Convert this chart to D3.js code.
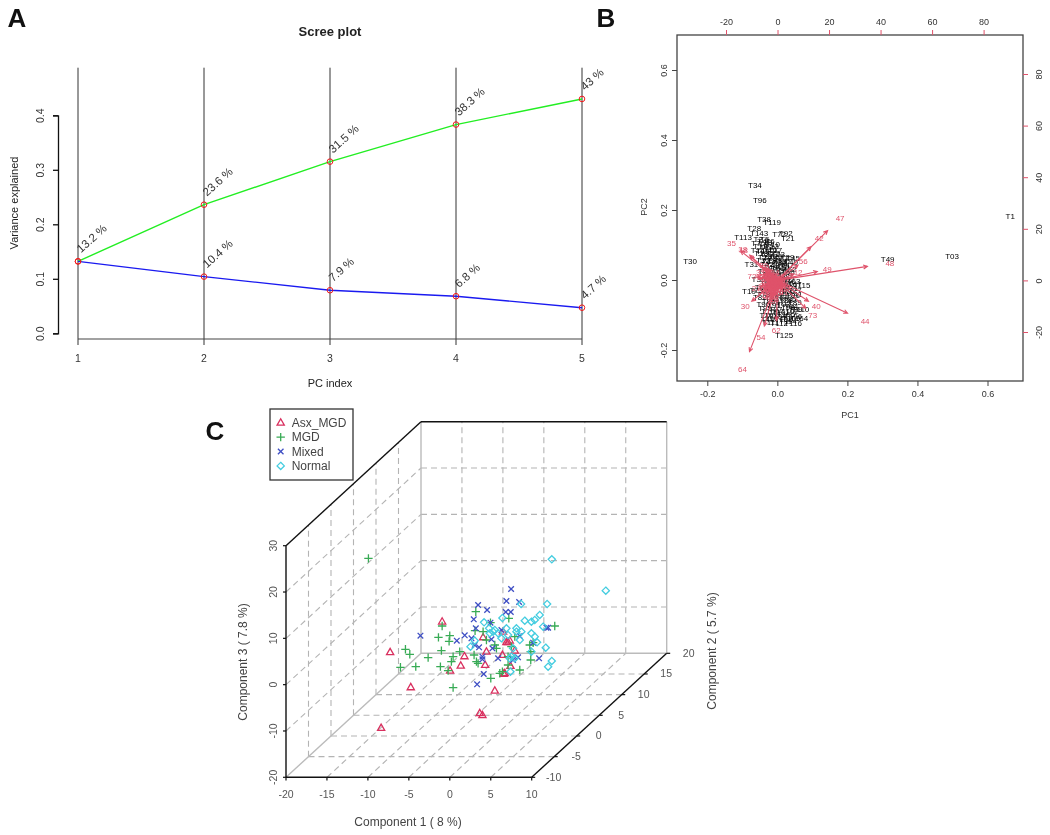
<!DOCTYPE html>
<html>
<head>
<meta charset="utf-8">
<script src="https://cdn.jsdelivr.net/npm/d3@7"></script>
<style>
  body { margin: 0; background: #fff; }
  svg { display: block; font-family: "Liberation Sans", Arial, sans-serif; filter: blur(0.3px); }
</style>
</head>
<body>
<div id="chart"></div>
<script>
// A: scree plot
const pcIndex = [1, 2, 3, 4, 5];
const individualVar = [0.132, 0.104, 0.079, 0.068, 0.047];
const cumulativeVar = [0.132, 0.236, 0.315, 0.383, 0.43];
const individualLabels = ["", "10.4 %", "7.9 %", "6.8 %", "4.7 %"];
const cumulativeLabels = ["13.2 %", "23.6 %", "31.5 %", "38.3 %", "43 %"];
const screeTicks = [0, 0.1, 0.2, 0.3, 0.4];

// B: biplot, first the far-out samples then the crowd round the origin
const scoreNames = ["T1","T03","T49","T30","T34","T96","T38","T119","T28","T143","T113","T92","T72","T21","T45","T31","T19","T115","T41","T110","T164","T44","T125","T39",
  "T2","T4","T5","T6","T7","T8","T9","T10","T11","T12","T13","T14","T15","T16","T17","T18","T20","T22","T23","T24","T25","T26","T27","T29","T32","T33","T35","T36","T37","T40",
  "T42","T43","T46","T47","T48","T50","T51","T52","T53","T54","T55","T56","T57","T58","T59","T60","T61","T62","T63","T64","T65","T66","T67","T68","T69","T70","T71","T73","T74",
  "T75","T76","T77","T78","T79","T80","T81","T82","T83","T84","T85","T86","T87","T88","T89","T90","T91","T93","T94","T95","T97","T98","T99","T100","T101","T102","T103","T104","T105",
  "T106","T107","T108","T109","T111","T112","T114","T116"];
const scorePC1 = [0.665,0.499,0.315,-0.249,-0.064,-0.05,-0.038,-0.015,-0.066,-0.052,-0.098,0.024,0.005,0.03,0.045,-0.074,-0.081,0.069,0.052,0.066,0.062,-0.028,0.019,-0.054,
  -0.055,-0.044,-0.036,-0.021,
  -0.061,-0.04,-0.027,-0.012,
  -0.05,-0.031,-0.016,
  -0.056,-0.041,-0.02,-0.006,
  -0.046,-0.03,-0.013,0.002,
  -0.036,-0.021,-0.005,0.011,0.029,
  -0.041,-0.026,-0.01,0.006,0.02,0.039,
  -0.03,-0.013,0.01,0.028,
  -0.02,0.001,0.018,0.035,
  -0.036,-0.01,0.012,0.03,
  -0.025,0.005,0.022,
  -0.02,0.01,0.03,0.046,
  -0.03,0,0.025,0.05,
  -0.045,-0.015,0.015,0.04,
  -0.06,-0.02,0.008,0.03,0.05,
  -0.04,-0.005,0.02,0.045,
  -0.05,-0.015,0.012,0.035,
  -0.025,0,0.025,0.05,
  -0.04,-0.01,0.018,0.04,
  -0.035,-0.005,0.03,0.052,
  -0.02,0.01,0.035,
  -0.025,0,0.025,0.045,
  -0.01,0.018,0.04,
  -0.02,0.005,0.03,0.045,
  0.015,0.03,
  0.022,0.035];
const scorePC2 = [0.181,0.069,0.06,0.053,0.271,0.228,0.173,0.164,0.149,0.133,0.123,0.134,0.13,0.119,0.063,0.046,-0.031,-0.015,-0.041,-0.082,-0.108,-0.111,-0.157,0.003,
  0.116,0.112,0.118,0.11,
  0.106,0.103,0.107,0.101,
  0.096,0.093,0.097,
  0.086,0.083,0.088,0.084,
  0.076,0.073,0.078,0.074,
  0.066,0.063,0.068,0.061,0.066,
  0.056,0.053,0.058,0.051,0.055,0.05,
  0.046,0.043,0.047,0.041,
  0.036,0.033,0.037,0.031,
  0.026,0.023,0.027,0.021,
  0.016,0.012,0.014,
  0.001,-0.002,0.003,-0.004,
  -0.01,-0.012,-0.008,-0.013,
  -0.02,-0.022,-0.018,-0.024,
  -0.03,-0.032,-0.028,-0.033,-0.03,
  -0.04,-0.042,-0.038,-0.044,
  -0.05,-0.052,-0.048,-0.054,
  -0.06,-0.062,-0.058,-0.064,
  -0.07,-0.072,-0.068,-0.074,
  -0.08,-0.082,-0.078,-0.084,
  -0.09,-0.092,-0.088,
  -0.1,-0.102,-0.098,-0.104,
  -0.11,-0.112,-0.108,
  -0.12,-0.122,-0.118,-0.124,
  -0.13,-0.132,
  -0.145,-0.142];

const loadingNames = ["47","48","44","64","35","30","40","73","54","62","42","56","12","49","72","27","18","38",
  "1","2","3","4","5","6","7","8","9","10","11","13","14","15","16","17","19","20","21","22","23","24","25","26","28","29",
  "31","32","33","34","36","37","39","41","43","45","46","50","51","52","53","55","57","58","59","60","61","63","65","66","67","68","69","70","71","74","75"];
const loadingTop = [24.3,43.6,34,-13.6,-17.9,-12.5,15,13.7,-6.4,-0.5,16.2,10,8,19.3,-9.9,-8.3,-13.2,-13.5,
  -3.4,-5,-5.8,-2.2,-4.1,-1.6,0.4,1.2,2.2,-3,-1.9,-4.6,-6.4,-5.9,-5.2,-3.6,-0.3,0.6,1.6,-1.2,-2.3,-3.7,-2.8,-0.4,-1.2,-2.4,
  -4.4,-5.4,-6.6,-1,2.6,3.2,1,2.4,3.4,-7,-3.6,-5.9,-1.6,-0.8,0.3,-4.6,-3,-2.1,-0.2,-5.6,-3.1,-3.8,-4.9,-1.2,1,-2.6,-3.5,-1,-4.4,-1.8,-2.7];
const loadingRight = [24.1,6.8,-15.9,-34.5,14.3,-10.1,-10.1,-13.6,-22.1,-19.4,16.3,7.4,3.1,4.3,1.6,-3.1,11.6,12.2,
  0.8,3.1,4.4,-2.6,-3.6,2.3,0.9,-2.4,-0.2,-5.2,-6.3,-5.7,1.2,-2.3,-0.4,3.6,-3.7,-4.4,-3.6,0.2,-3.4,-1.8,-0.2,-5,-7.2,-7.9,
  5.2,6,3.2,3,-1.6,0.4,1.6,-4.6,-2.7,1.8,-6.6,-4.3,-4.4,-2.8,-2,0.6,1.5,-1.3,-0.5,1.6,-3.8,-4.7,-2.9,-5.6,-0.4,0.5,-2.4,-1.7,-0.7,1,-1.3];

// C: 3d scatter. Depth can't be read off a flat picture, so the points sit on the comp2 = 0 plane
const groupNames = ["Asx_MGD", "MGD", "Mixed", "Normal"];
const asxComp1 = [-6.43,-12.78,-10.26,-13.88,-1.84,-1.51,0,1.09,1.91,-1.18,-4.16,-5.46,-3.71,-1.02,-1.43,1.01,1.62,1.42,1.83,2.44,0.93,1.22];
const asxComp3 = [4.68,-1.94,-9.5,-18.27,-15.11,-15.54,-10.22,-6.62,-4.89,-4.68,-4.82,-5.9,-2.81,-1.8,1.29,2.52,0.22,0.22,0.58,-1.58,-2.52,-6.47];
const mgdComp1 = [-15.43,-2.32,-0.53,1.71,-6.43,-6.88,-5.5,-5.58,-2.41,-1.43,-10.91,-10.38,-11.52,-9.65,-8.14,-6.52,-4.28,-5.09,-5.3,-6.64,-5.7,-5.09,-2.53,-2.24,-2.04,-0.49,0.61,0.93,3.05,4.39,4.39,4.27,4.68,7.32,-1.02,0,0.2,2.03,2.44,1.62,1.62];
const mgdComp3 = [18.35,6.83,4.46,5.4,3.74,1.29,1.65,0.43,2.73,2.52,-1.29,-2.37,-5.18,-5.04,-3.09,-1.58,-1.8,-2.88,-3.96,-5.04,-5.9,-9.57,-2.52,-3.96,-4.32,-7.55,-6.47,-6.12,-5.76,-3.6,-1.8,-0.36,0.14,3.74,0.72,-0.36,-1.08,-0.72,1.44,-2.88,-4.68];
const mixedComp1 = [1.99,1.42,2.97,-2.04,-0.94,1.34,1.95,-2.57,-0.53,-2.32,-9.08,-4.64,-3.67,-2.85,-2.45,-1.92,-1.51,-1.51,-1.35,-2.16,-0.41,-0.29,0.4,0.81,3.05,2.84,5.41,6.3,6.51,4.68,2.23];
const mixedComp3 = [11.73,9.14,8.92,8.27,7.19,6.76,6.76,5.18,4.46,3.24,1.65,0.58,1.73,1.08,-0.36,-0.86,-2.88,-3.45,-6.62,-8.85,0.86,-1.08,-3.24,2.88,1.58,-3.02,-3.24,3.38,3.38,0.14,-3.6];
const normalComp1 = [6.96,13.55,6.39,3.21,5.49,4.88,4.47,3.66,0.93,-1.31,-0.7,-0.21,1.42,2.64,3.25,5.9,4.47,4.88,5.16,6.22,4.47,6.96,6.51,1.91,-2.97,-2.45,0.81,1.62,2.64,3.05,2.03,2.44,1.82,2.23,0.4,-0.61,0];
const normalComp3 = [18.13,11.37,8.49,8.49,6.12,5.04,4.68,4.89,5.47,4.53,3.24,2.52,3.24,3.24,2.52,3.6,2.16,1.44,0.22,-0.94,-1.8,-3.81,-5.04,-6.12,-0.72,0.58,1.08,1.8,2.52,0.72,-2.88,-3.24,-3.24,-1.08,2.16,2.16,2.88];
const comp1Ticks = [-20, -15, -10, -5, 0, 5, 10];
const comp2Ticks = [-10, -5, 0, 5, 10, 15, 20];
const comp3Ticks = [-20, -10, 0, 10, 20, 30];

const svg = d3.select("#chart").append("svg").attr("width", 1050).attr("height", 835);

function label(x, y, txt, size, opts) {
  opts = opts || {};
  return svg.append("text")
    .attr("transform", "translate(" + x + "," + y + ")" + (opts.rotate ? " rotate(" + opts.rotate + ")" : ""))
    .attr("text-anchor", opts.anchor || "middle")
    .attr("font-size", size)
    .attr("font-weight", opts.weight || "normal")
    .attr("fill", opts.fill || "#222")
    .text(txt);
}

label(17, 27, "A", 26, {weight: "bold", fill: "#111"});
label(606, 27, "B", 26, {weight: "bold", fill: "#111"});
label(215, 440, "C", 26, {weight: "bold", fill: "#111"});

drawScree();
drawBiplot();
draw3d();

function drawScree() {
  const x = d3.scaleLinear().domain([1, 5]).range([78, 582]);
  const y = d3.scaleLinear().domain([0, 0.4]).range([333.3, 115.3]);

  label(330, 36, "Scree plot", 13, {weight: "bold"});
  label(330, 386.5, "PC index", 11);
  label(18, 203, "Variance explained", 11, {rotate: -90});

  const yAxis = d3.axisLeft(y).tickValues(screeTicks).tickFormat(d3.format(".1f")).tickSize(5).tickSizeOuter(5);
  const gy = svg.append("g").attr("transform", "translate(58,0)").call(yAxis);
  gy.selectAll("path, line").attr("stroke", "#111").attr("stroke-width", 1.3);
  gy.selectAll("text")
    .attr("transform", "rotate(-90)")
    .attr("x", 0).attr("y", -14).attr("dy", 0)
    .attr("text-anchor", "middle")
    .attr("font-size", 10.5).attr("font-family", "Liberation Sans").attr("fill", "#333");

  const g = svg.append("g");
  g.selectAll("line.pc").data(pcIndex).enter().append("line")
    .attr("x1", (d) => x(d)).attr("x2", (d) => x(d))
    .attr("y1", 67.7).attr("y2", 345)
    .attr("stroke", "#333").attr("stroke-width", 1);
  g.append("line")
    .attr("x1", x(1)).attr("x2", x(5)).attr("y1", 339).attr("y2", 339)
    .attr("stroke", "#444").attr("stroke-width", 1.2);

  pcIndex.forEach((d) => label(x(d), 362, d, 10.5, {fill: "#333"}));

  const line = d3.line().x((d, i) => x(pcIndex[i])).y((d) => y(d));
  g.append("path").attr("d", line(cumulativeVar)).attr("fill", "none").attr("stroke", "#22ee22").attr("stroke-width", 1.4);
  g.append("path").attr("d", line(individualVar)).attr("fill", "none").attr("stroke", "#1a1af0").attr("stroke-width", 1.4);

  [[cumulativeVar, cumulativeLabels], [individualVar, individualLabels]].forEach((s) => {
    g.selectAll(null).data(s[0]).enter().append("circle")
      .attr("cx", (d, i) => x(pcIndex[i])).attr("cy", (d) => y(d)).attr("r", 2.8)
      .attr("fill", "none").attr("stroke", "#f01818").attr("stroke-width", 1);
    s[0].forEach((d, i) => {
      if (s[1][i]) label(x(pcIndex[i]) + 3, y(d) - 8, s[1][i], 11.5, {anchor: "start", rotate: -42, fill: "#333"});
    });
  });
}

function drawBiplot() {
  const pink = "#df536b";
  const left = 677, right = 1023, top = 35, bottom = 381;
  const x = d3.scaleLinear().domain([-0.2, 0.6]).range([707.3, 987.5]);
  const y = d3.scaleLinear().domain([-0.2, 0.6]).range([350, 70]);
  const xTop = d3.scaleLinear().domain([-20, 80]).range([726, 983.6]);
  const yRight = d3.scaleLinear().domain([-20, 80]).range([332, 74]);

  svg.append("rect")
    .attr("x", left).attr("y", top).attr("width", right - left).attr("height", bottom - top)
    .attr("fill", "none").attr("stroke", "#444").attr("stroke-width", 1.3);

  // plain hyphens on the ticks, as R prints them
  const fmt = (d) => d.toFixed(1);
  const fmtInt = (d) => String(d);
  const styleAxis = (g, col) => {
    g.select(".domain").remove();
    g.selectAll("line").attr("stroke", col);
    g.selectAll("text").attr("font-size", 9).attr("font-family", "Liberation Sans").attr("fill", "#333");
  };
  const rotateText = (g, off) => g.selectAll("text")
    .attr("transform", "rotate(-90)").attr("x", 0).attr("y", off).attr("dy", 0).attr("text-anchor", "middle");

  svg.append("g").attr("transform", "translate(0," + bottom + ")")
    .call(d3.axisBottom(x).tickValues([-0.2, 0, 0.2, 0.4, 0.6]).tickFormat(fmt).tickSize(5).tickPadding(5))
    .call(styleAxis, "#444");
  svg.append("g").attr("transform", "translate(" + left + ",0)")
    .call(d3.axisLeft(y).tickValues([-0.2, 0, 0.2, 0.4, 0.6]).tickFormat(fmt).tickSize(5))
    .call(styleAxis, "#444").call(rotateText, -10);
  svg.append("g").attr("transform", "translate(0," + top + ")")
    .call(d3.axisTop(xTop).tickValues([-20, 0, 20, 40, 60, 80]).tickFormat(fmtInt).tickSize(5).tickPadding(5))
    .call(styleAxis, pink);
  svg.append("g").attr("transform", "translate(" + right + ",0)")
    .call(d3.axisRight(yRight).tickValues([-20, 0, 20, 40, 60, 80]).tickFormat(fmtInt).tickSize(5))
    .call(styleAxis, pink).call(rotateText, 19);

  label(850, 418, "PC1", 9, {fill: "#333"});
  label(647, 207, "PC2", 9, {rotate: -90, fill: "#333"});

  svg.append("g").selectAll("text").data(scorePC1).enter().append("text")
    .attr("x", (d) => x(d))
    .attr("y", (d, i) => y(scorePC2[i]))
    .attr("dy", "0.35em")
    .attr("text-anchor", "middle")
    .attr("font-size", 8)
    .attr("fill", "#000")
    .text((d, i) => scoreNames[i]);

  // arrows stop at 80% of the loading, the label sits on the loading itself
  const arrows = svg.append("g").attr("stroke", pink).attr("fill", "none").attr("stroke-width", 1.1);
  loadingTop.forEach((d, i) => {
    const x0 = xTop(0), y0 = yRight(0);
    const tx = xTop(d * 0.8), ty = yRight(loadingRight[i] * 0.8);
    const a = Math.atan2(ty - y0, tx - x0);
    const hx = (s) => tx - 4.5 * Math.cos(a + s), hy = (s) => ty - 4.5 * Math.sin(a + s);
    arrows.append("path").attr("d",
      "M" + x0 + "," + y0 + "L" + tx + "," + ty +
      "M" + hx(0.45) + "," + hy(0.45) + "L" + tx + "," + ty + "L" + hx(-0.45) + "," + hy(-0.45));
  });
  svg.append("g").selectAll("text").data(loadingTop).enter().append("text")
    .attr("x", (d) => xTop(d))
    .attr("y", (d, i) => yRight(loadingRight[i]))
    .attr("dy", "0.35em")
    .attr("text-anchor", "middle")
    .attr("font-size", 8)
    .attr("fill", pink)
    .text((d, i) => loadingNames[i]);
}

function draw3d() {
  // oblique projection: comp1 runs right, comp3 up, comp2 goes back along the diagonal
  const c1 = d3.scaleLinear().domain([-20, 10]).range([286, 531.7]);
  const c3 = d3.scaleLinear().domain([-20, 30]).range([777.3, 545.7]);
  const c2x = d3.scaleLinear().domain([-10, 20]).range([0, 135]);
  const c2y = d3.scaleLinear().domain([-10, 20]).range([0, -124]);
  const px = (a, b) => c1(a) + c2x(b);
  const py = (b, c) => c3(c) + c2y(b);

  const seg = (g, a, b, stroke, w, dash) => g.append("line")
    .attr("x1", px(a[0], a[1])).attr("y1", py(a[1], a[2]))
    .attr("x2", px(b[0], b[1])).attr("y2", py(b[1], b[2]))
    .attr("stroke", stroke).attr("stroke-width", w)
    .attr("stroke-dasharray", dash || null);

  const grid = svg.append("g");
  const grey = "#b4b4b4";
  comp1Ticks.slice(1, -1).forEach((v) => {
    seg(grid, [v, 20, -20], [v, 20, 30], grey, 1.1, "6,4");
    seg(grid, [v, -10, -20], [v, 20, -20], grey, 1.1, "6,4");
  });
  comp2Ticks.slice(1, -1).forEach((v) => {
    seg(grid, [-20, v, -20], [10, v, -20], grey, 1.1, "6,4");
    seg(grid, [-20, v, -20], [-20, v, 30], grey, 1.1, "6,4");
  });
  comp3Ticks.slice(1, -1).forEach((v) => {
    seg(grid, [-20, 20, v], [10, 20, v], grey, 1.1, "6,4");
    seg(grid, [-20, -10, v], [-20, 20, v], grey, 1.1, "6,4");
  });

  seg(grid, [-20, 20, -20], [-20, 20, 30], "#bbb", 1.4);
  seg(grid, [-20, 20, -20], [10, 20, -20], "#bbb", 1.4);
  seg(grid, [10, 20, -20], [10, 20, 30], "#bbb", 1.4);
  seg(grid, [-20, -10, -20], [-20, 20, -20], "#bbb", 1.4);

  seg(grid, [-20, 20, 30], [10, 20, 30], "#111", 1.4);
  seg(grid, [-20, -10, 30], [-20, 20, 30], "#111", 1.4);
  seg(grid, [-20, -10, -20], [-20, -10, 30], "#111", 1.4);
  seg(grid, [-20, -10, -20], [10, -10, -20], "#111", 1.4);
  seg(grid, [10, -10, -20], [10, 20, -20], "#111", 1.4);

  comp1Ticks.forEach((v) => {
    grid.append("line").attr("x1", c1(v)).attr("x2", c1(v)).attr("y1", 777.3).attr("y2", 780.5).attr("stroke", "#111").attr("stroke-width", 1.2);
    label(c1(v), 798, v, 10.5, {fill: "#555"});
  });
  comp3Ticks.forEach((v) => {
    grid.append("line").attr("x1", 283).attr("x2", 286).attr("y1", c3(v)).attr("y2", c3(v)).attr("stroke", "#111").attr("stroke-width", 1.2);
    label(276.5, c3(v), v, 10.5, {rotate: -90, fill: "#555"});
  });
  comp2Ticks.forEach((v) => {
    const tx = px(10, v), ty = py(v, -20);
    grid.append("line").attr("x1", tx).attr("x2", tx + 3.5).attr("y1", ty).attr("y2", ty).attr("stroke", "#111").attr("stroke-width", 1.2);
    label(tx + 22, ty + 3.5, v, 10.5, {fill: "#555"});
  });

  label(408, 826, "Component 1 ( 8 %)", 12, {fill: "#444"});
  label(247, 662, "Component 3 ( 7.8 %)", 12, {rotate: -90, fill: "#444"});
  label(716, 651, "Component 2 ( 5.7 %)", 12, {rotate: -90, fill: "#444"});

  const symbols = [
    {col: "#d9305f", d: "M0,-3.9L3.6,2.4L-3.6,2.4Z"},
    {col: "#38ab55", d: "M-4.2,0L4.2,0M0,-4.2L0,4.2"},
    {col: "#3f4fc4", d: "M-2.8,-2.8L2.8,2.8M-2.8,2.8L2.8,-2.8"},
    {col: "#45cde0", d: "M0,-3.6L3.6,0L0,3.6L-3.6,0Z"}
  ];
  const series = [[asxComp1, asxComp3], [mgdComp1, mgdComp3], [mixedComp1, mixedComp3], [normalComp1, normalComp3]];

  series.forEach((s, k) => {
    svg.append("g").selectAll("path").data(s[0]).enter().append("path")
      .attr("transform", (d, i) => "translate(" + px(d, 0) + "," + py(0, s[1][i]) + ")")
      .attr("d", symbols[k].d)
      .attr("fill", "none").attr("stroke", symbols[k].col).attr("stroke-width", 1.3);
  });

  // legend
  svg.append("rect").attr("x", 270).attr("y", 409).attr("width", 83).attr("height", 71)
    .attr("fill", "#fff").attr("stroke", "#333").attr("stroke-width", 1.3);
  groupNames.forEach((n, k) => {
    const ly = 422.7 + k * 14.4;
    svg.append("path").attr("transform", "translate(280.7," + ly + ")")
      .attr("d", symbols[k].d).attr("fill", "none").attr("stroke", symbols[k].col).attr("stroke-width", 1.3);
    label(291.7, ly + 4.2, n, 12, {anchor: "start", fill: "#444"});
  });
}
</script>
</body>
</html>
